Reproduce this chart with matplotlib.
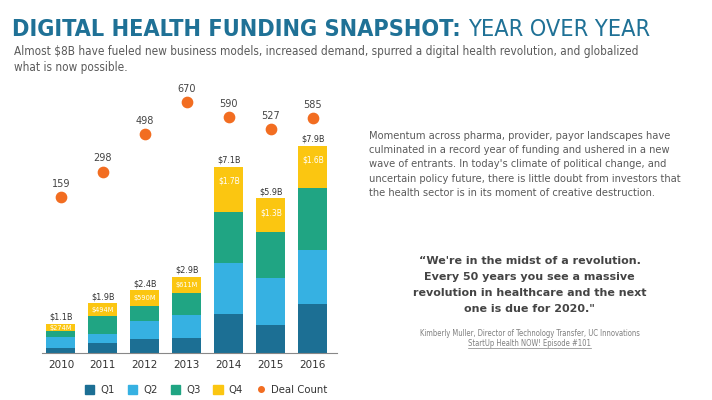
import matplotlib
matplotlib.use("Agg")
import matplotlib.pyplot as plt
import numpy as np
from matplotlib.lines import Line2D
from matplotlib.patches import Patch

years = ["2010", "2011", "2012", "2013", "2014", "2015", "2016"]
q1 = [0.18, 0.38, 0.53, 0.57, 1.50, 1.07, 1.87]
q2 = [0.42, 0.35, 0.70, 0.88, 1.95, 1.79, 2.06]
q3 = [0.23, 0.68, 0.58, 0.84, 1.95, 1.75, 2.37]
q4 = [0.274, 0.494, 0.59, 0.611, 1.70, 1.30, 1.60]
totals = ["$1.1B", "$1.9B", "$2.4B", "$2.9B", "$7.1B", "$5.9B", "$7.9B"]
q4_labels = ["$274M", "$494M", "$590M", "$611M", "$1.7B", "$1.3B", "$1.6B"]
deals = [159, 298, 498, 670, 590, 527, 585]

c_q1 = "#1c6f94"
c_q2 = "#36b1e2"
c_q3 = "#20a583"
c_q4 = "#fbc611"
c_dot = "#f26d21"
teal = "#1f7196"
grey = "#5a5a5a"

cond = dict(family="DejaVu Sans", fontstretch="condensed")

fig = plt.figure(figsize=(7.12, 4.0), dpi=100)
ax = fig.add_axes([0.059, 0.1175, 0.414, 0.645])
renderer = fig.canvas.get_renderer()


def fit(t, width_px):
    # shrink font until the text is no wider than width_px
    while t.get_window_extent(renderer).width > width_px:
        t.set_fontsize(t.get_fontsize() - 0.1)
    return t


x = np.arange(len(years))
w = 0.69
b1 = np.array(q1)
b2 = b1 + np.array(q2)
b3 = b2 + np.array(q3)
b4 = b3 + np.array(q4)
ax.bar(x, q1, w, color=c_q1, zorder=2)
ax.bar(x, q2, w, bottom=b1, color=c_q2, zorder=2)
ax.bar(x, q3, w, bottom=b2, color=c_q3, zorder=2)
ax.bar(x, q4, w, bottom=b3, color=c_q4, zorder=2)

for i in range(len(years)):
    ax.text(x[i], b4[i] + 0.08, totals[i].replace("$", r"\$"), ha="center",
            va="bottom", fontsize=6.5, color="#333333", **cond)
    big = q4[i] > 1.0
    ax.text(x[i], b4[i] - (0.55 if big else q4[i] / 2), q4_labels[i].replace("$", r"\$"),
            ha="center", va="center", fontsize=6 if big else 5.3, color="white",
            **cond)

ax.set_xlim(-0.45, 6.57)
ax.set_ylim(0, 9.85)
ax.set_xticks(x)
ax.set_xticklabels(years, fontsize=7.5, color="#333333")
ax.tick_params(axis="x", length=0, pad=5)
ax.set_yticks([])
for s in ["top", "left", "right"]:
    ax.spines[s].set_visible(False)
ax.spines["bottom"].set_color("#888888")
ax.spines["bottom"].set_linewidth(0.8)

ax2 = ax.twinx()
ax2.scatter(x, deals, s=55, color=c_dot, zorder=3)
for i in range(len(years)):
    ax2.text(x[i], deals[i] + 45, str(deals[i]), ha="center", va="bottom",
             fontsize=7, color="#444444")
ax2.set_ylim(-677, 710)
ax2.set_yticks([])
for s in ["top", "left", "right", "bottom"]:
    ax2.spines[s].set_visible(False)

handles = [Patch(color=c_q1), Patch(color=c_q2), Patch(color=c_q3), Patch(color=c_q4),
           Line2D([], [], marker="o", color=c_dot, linestyle="none", markersize=4)]
fig.legend(handles, ["Q1", "Q2", "Q3", "Q4", "Deal Count"], loc="center",
           bbox_to_anchor=(0.29, 0.025), ncol=5, frameon=False, fontsize=7.3,
           handlelength=0.9, handleheight=0.9, columnspacing=1.3, handletextpad=0.6,
           labelcolor="#333333")

# title
t1 = fig.text(0.017, 0.925, "DIGITAL HEALTH FUNDING SNAPSHOT:", fontsize=21,
              fontweight="bold", color=teal, va="center", **cond)
fit(t1, 450)
bb = t1.get_window_extent(renderer)
t2 = fig.text(bb.x1 / fig.bbox.width + 0.01, 0.925, "YEAR OVER YEAR",
              fontsize=t1.get_fontsize(), color=teal, va="center", **cond)
fit(t2, 190)

sub1 = fig.text(0.019, 0.87,
                "Almost \\$8B have fueled new business models, increased demand, spurred a digital health revolution, and globalized",
                fontsize=9.2, color=grey, va="center", **cond)
fit(sub1, 626)
fig.text(0.019, 0.832, "what is now possible.", fontsize=sub1.get_fontsize(),
         color=grey, va="center", **cond)

para = ["Momentum across pharma, provider, payor landscapes have",
        "culminated in a record year of funding and ushered in a new",
        "wave of entrants. In today's climate of political change, and",
        "uncertain policy future, there is little doubt from investors that",
        "the health sector is in its moment of creative destruction."]
pt = fit(fig.text(0.518, 0.5, para[3], fontsize=9, **cond), 312)
psize = pt.get_fontsize()
pt.remove()
for k, line in enumerate(para):
    fig.text(0.518, 0.66 - k * 0.0355, line, fontsize=psize, color=grey,
             va="center", **cond)

quote = ["\u201cWe're in the midst of a revolution.",
         "Every 50 years you see a massive",
         "revolution in healthcare and the next",
         "one is due for 2020.\""]
qt = fit(fig.text(0.5, 0.5, quote[2], fontsize=12, fontweight="bold"), 236)
qsize = qt.get_fontsize()
qt.remove()
for k, line in enumerate(quote):
    fig.text(0.744, 0.3475 - k * 0.04, line, fontsize=qsize, fontweight="bold",
             color="#444444", ha="center", va="center")

a1 = fig.text(0.744, 0.165, "Kimberly Muller, Director of Technology Transfer, UC Innovations",
              fontsize=6, color="#808080", ha="center", va="center", **cond)
fit(a1, 225)
a2 = fig.text(0.744, 0.14, "StartUp Health NOW! Episode #101",
              fontsize=a1.get_fontsize(), color="#808080", ha="center", va="center", **cond)
ab = a2.get_window_extent(renderer)
fig.add_artist(Line2D([ab.x0 / 712, ab.x1 / 712], [0.129, 0.129], color="#808080", lw=0.5))

fig.savefig("out.png", dpi=100, facecolor="white")
